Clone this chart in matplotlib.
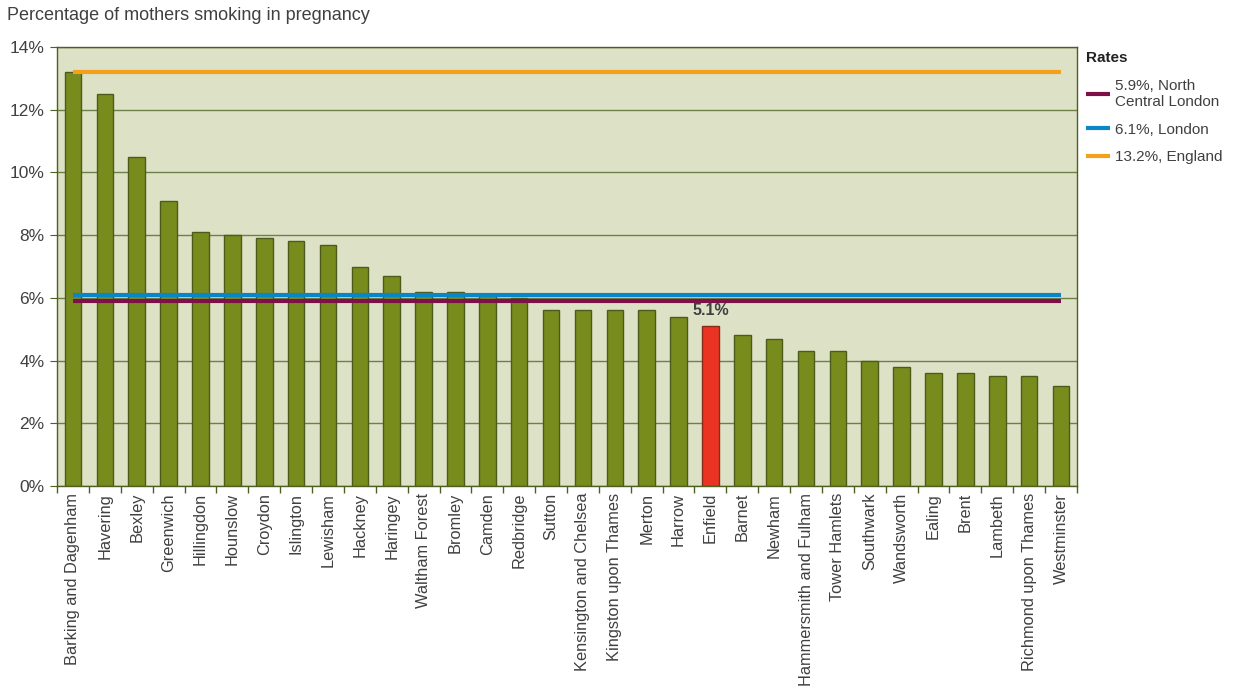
import matplotlib

matplotlib.use("Agg")
import matplotlib.pyplot as plt
from matplotlib.ticker import FixedLocator, PercentFormatter

plt.rcParams["font.family"] = ["Liberation Sans", "DejaVu Sans"]

boroughs = [
    "Barking and Dagenham", "Havering", "Bexley", "Greenwich", "Hillingdon",
    "Hounslow", "Croydon", "Islington", "Lewisham", "Hackney", "Haringey",
    "Waltham Forest", "Bromley", "Camden", "Redbridge", "Sutton",
    "Kensington and Chelsea", "Kingston upon Thames", "Merton", "Harrow",
    "Enfield", "Barnet", "Newham", "Hammersmith and Fulham", "Tower Hamlets",
    "Southwark", "Wandsworth", "Ealing", "Brent", "Lambeth",
    "Richmond upon Thames", "Westminster",
]
smoking_pct = [
    13.2, 12.5, 10.5, 9.1, 8.1, 8.0, 7.9, 7.8, 7.7, 7.0, 6.7, 6.2, 6.2, 6.1,
    6.0, 5.6, 5.6, 5.6, 5.6, 5.4, 5.1, 4.8, 4.7, 4.3, 4.3, 4.0, 3.8, 3.6,
    3.6, 3.5, 3.5, 3.2,
]
highlight = "Enfield"
rate_labels = ["5.9%, North\nCentral London", "6.1%, London", "13.2%, England"]
rate_values = [5.9, 6.1, 13.2]
rate_colors = ["#7d1048", "#0a85c8", "#f5a01a"]

text_color = "#404040"
axis_color = "#4e6020"

fig = plt.figure(figsize=(12.35, 6.89), dpi=100)
ax = fig.add_axes([0.0462, 0.2946, 0.8258, 0.6372])
ax.set_facecolor("#dde1c6")

x = list(range(len(boroughs)))
colors = ["#ea3323" if b == highlight else "#788c1e" for b in boroughs]
edges = ["#8a2a1a" if b == highlight else "#4b5c1a" for b in boroughs]
ax.bar(x, smoking_pct, width=0.52, color=colors, edgecolor=edges, linewidth=1.0, zorder=2)

for label, val, col in zip(rate_labels, rate_values, rate_colors):
    ax.plot([x[0], x[-1]], [val, val], color=col, linewidth=3.0, label=label,
            solid_capstyle="butt", zorder=3)

hi = boroughs.index(highlight)
ax.text(hi, smoking_pct[hi] + 0.25, f"{smoking_pct[hi]:.1f}%", ha="center", va="bottom",
        fontsize=11.5, fontweight="bold", color=text_color, zorder=4)

ax.set_xlim(-0.5, len(boroughs) - 0.5)
ax.set_ylim(0, 14)
ax.set_yticks(range(0, 15, 2))
ax.yaxis.set_major_formatter(PercentFormatter(decimals=0))
ax.grid(True, axis="y", color="#6e7f48", linewidth=1.0, zorder=1)
ax.set_axisbelow(True)

ax.set_xticks(x)
ax.set_xticklabels(boroughs, rotation=90, fontsize=11.8, color=text_color)
ax.xaxis.set_minor_locator(FixedLocator([i - 0.5 for i in range(len(boroughs) + 1)]))
ax.tick_params(axis="x", which="major", length=0, pad=5)
ax.tick_params(axis="x", which="minor", length=5, color=axis_color, width=1)
ax.tick_params(axis="y", length=5, color=axis_color, labelsize=12.5, labelcolor=text_color, pad=4)

for side in ["left", "bottom", "right", "top"]:
    ax.spines[side].set_color(axis_color)
    ax.spines[side].set_linewidth(1.0)

fig.text(0.006, 0.977, "Percentage of mothers smoking in pregnancy", fontsize=13,
         color=text_color, ha="left", va="center")

leg = fig.legend(loc="upper left", bbox_to_anchor=(0.874, 0.935), frameon=False,
                 title="Rates", fontsize=11, title_fontsize=11, handlelength=1.6,
                 handletextpad=0.3, labelspacing=0.9, borderaxespad=0)
leg.get_title().set_fontweight("bold")
leg.get_title().set_color("#222222")
leg._legend_box.align = "left"
for t in leg.get_texts():
    t.set_color(text_color)

fig.savefig("out.png", dpi=100)
